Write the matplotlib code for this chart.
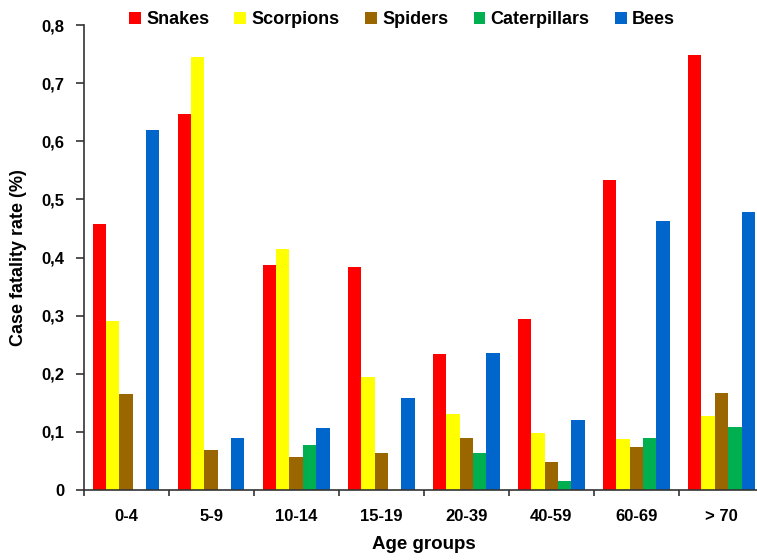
import numpy as np
import matplotlib
matplotlib.use("Agg")
import matplotlib.pyplot as plt
from matplotlib.ticker import FuncFormatter

plt.rcParams['font.family'] = ['Liberation Sans', 'DejaVu Sans']
plt.rcParams['font.weight'] = 'bold'

age_groups = ["0-4", "5-9", "10-14", "15-19", "20-39", "40-59", "60-69", "> 70"]
snakes = [0.458, 0.647, 0.387, 0.384, 0.234, 0.294, 0.534, 0.749]
scorpions = [0.291, 0.745, 0.415, 0.194, 0.131, 0.098, 0.088, 0.128]
spiders = [0.166, 0.069, 0.056, 0.063, 0.089, 0.049, 0.074, 0.167]
caterpillars = [0.0, 0.0, 0.077, 0.0, 0.063, 0.016, 0.089, 0.109]
bees = [0.619, 0.089, 0.107, 0.159, 0.235, 0.121, 0.462, 0.478]

series = [("Snakes", snakes, "#ff0000"),
          ("Scorpions", scorpions, "#ffff00"),
          ("Spiders", spiders, "#996600"),
          ("Caterpillars", caterpillars, "#00b050"),
          ("Bees", bees, "#0066cc")]

fig = plt.figure(figsize=(7.57, 5.6), dpi=100)
ax = fig.add_axes([83.5 / 757, 70 / 560, (764 - 83.5) / 757, (490 - 25) / 560])

x = np.arange(len(age_groups))
w = 0.157
for i, (name, vals, col) in enumerate(series):
    ax.bar(x + (i - 2) * w, vals, w, color=col, label=name, edgecolor='none')

ax.set_xlim(-0.5, len(age_groups) - 0.5)
ax.set_ylim(0, 0.8)
ax.set_yticks(np.arange(0, 0.81, 0.1))
ax.yaxis.set_major_formatter(FuncFormatter(lambda v, p: "0" if v == 0 else f"{v:.1f}".replace(".", ",")))
ax.set_xticks(x)
ax.set_xticklabels(age_groups)
ax.set_xticks(np.arange(-0.5, len(age_groups), 1), minor=True)
ax.tick_params(axis='x', which='major', length=0, pad=14, labelsize=12)
ax.tick_params(axis='x', which='minor', length=4, width=1.2, color='#333333', direction='out')
ax.tick_params(axis='y', length=6, width=1.2, color='#333333', labelsize=12, pad=8)

for s in ['top', 'right']:
    ax.spines[s].set_visible(False)
for s in ['left', 'bottom']:
    ax.spines[s].set_color('#333333')
    ax.spines[s].set_linewidth(1.2)

ax.set_ylabel("Case fatality rate (%)", fontsize=13, fontweight='bold', labelpad=10)
ax.set_xlabel("Age groups", fontsize=13.5, fontweight='bold', labelpad=8)

fig.legend(loc='center', bbox_to_anchor=(402 / 757, 1 - 20 / 560), ncol=5, frameon=False,
           fontsize=13, handlelength=0.65, handleheight=0.65, handletextpad=0.3, columnspacing=1.4)

fig.savefig("out.png", dpi=100)
